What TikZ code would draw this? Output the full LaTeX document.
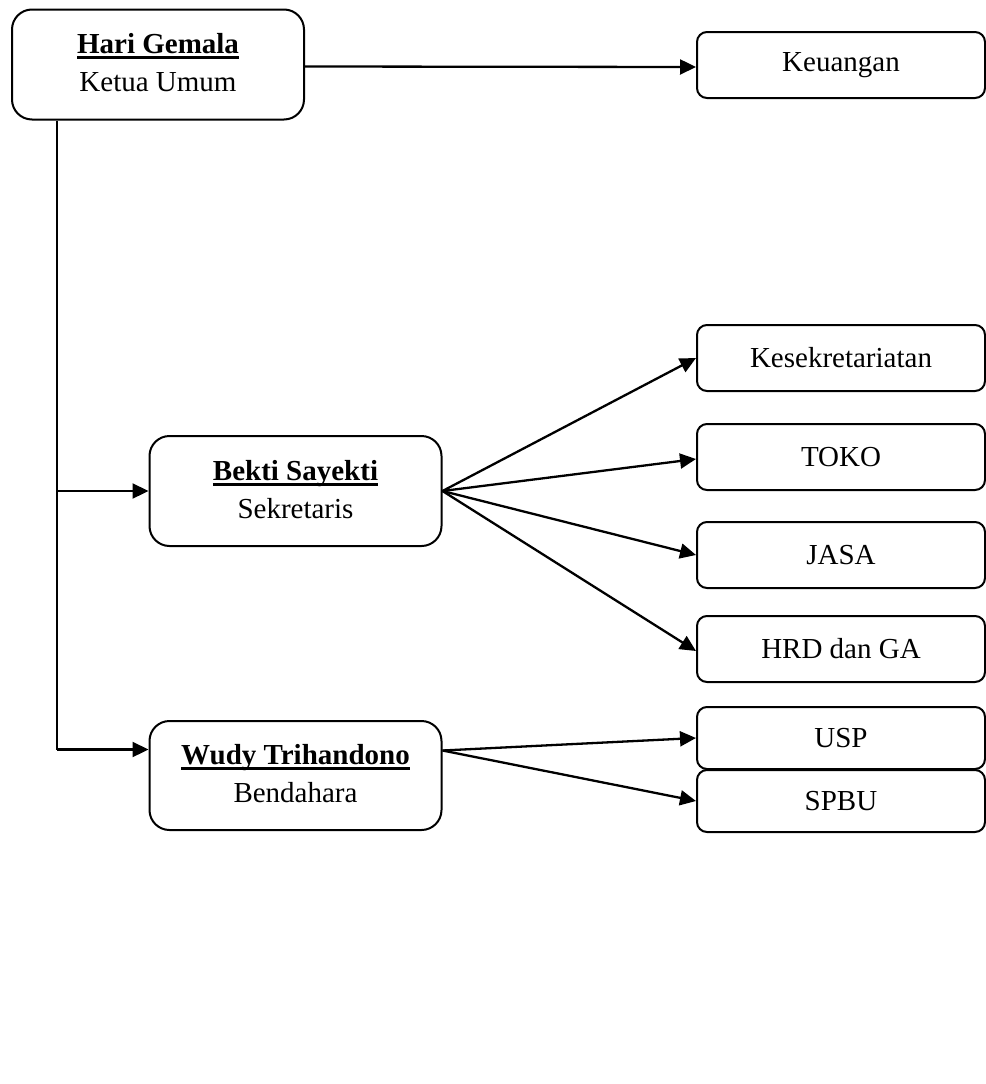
\documentclass[tikz,border=0pt]{standalone}
\usepackage{fontspec}
\setmainfont{Liberation Serif}
\usetikzlibrary{arrows.meta}
\newcommand\ulbf[1]{\setbox0\hbox{\textbf{#1}}\rlap{\raisebox{-5.5pt}{\rule{\wd0}{2.6pt}}}\box0}
\begin{document}
\begin{tikzpicture}[x=1pt,y=-1pt,
  every node/.style={font=\fontsize{29}{38}\selectfont},
  bigbox/.style={draw,line width=2pt,rounded corners=20pt,minimum width=292pt,minimum height=110pt,inner sep=0pt,align=center,text depth=4pt},
  smallbox/.style={draw,line width=2pt,rounded corners=10pt,minimum width=288pt,minimum height=66pt,inner sep=0pt,align=center},
  arr/.style={line width=2.3pt,-{Triangle[length=16pt,width=15pt]}},
  trunkline/.style={line width=1.8pt}]
\useasboundingbox (0,0) rectangle (985,1084);
\fill[white] (0,0) rectangle (985,1084);

\node[bigbox] (hari) at (158,64.5) {\ulbf{Hari Gemala}\\Ketua Umum};
\node[bigbox] (bekti) at (295.5,491) {\ulbf{Bekti Sayekti}\\Sekretaris};
\node[bigbox,minimum height=109pt] (wudy) at (295.5,775.5) {\ulbf{Wudy Trihandono}\\Bendahara};

\node[smallbox] (keu) at (841,65) {Keuangan};
\node[smallbox] (kes) at (841,358) {Kesekretariatan};
\node[smallbox] (toko) at (841,457) {TOKO};
\node[smallbox] (jasa) at (841,555) {JASA};
\node[smallbox] (hrd) at (841,649) {HRD dan GA};
\node[smallbox,minimum height=62pt] (usp) at (841,738) {USP};
\node[smallbox,minimum height=62pt] (spbu) at (841,801) {SPBU};

\coordinate (trunk) at ([xshift=46pt]hari.south west);
\coordinate (wjoin) at ([yshift=26pt]wudy.west);
\coordinate (wout) at ([yshift=25pt]wudy.east);

\draw[arr] ([yshift=-2pt]hari.east) -- ([yshift=-2pt]keu.west);
\draw[trunkline] (trunk) -- (trunk |- wjoin);
\draw[arr] (trunk |- bekti.west) -- (bekti.west);
\draw[arr] (trunk |- wjoin) -- (wjoin);

\draw[arr] (bekti.east) -- (kes.west);
\draw[arr] (bekti.east) -- ([yshift=-2pt]toko.west);
\draw[arr] (bekti.east) -- (jasa.west);
\draw[arr] (bekti.east) -- ([yshift=-2pt]hrd.west);

\draw[arr] (wout) -- (usp.west);
\draw[arr] (wout) -- (spbu.west);
\end{tikzpicture}
\end{document}
